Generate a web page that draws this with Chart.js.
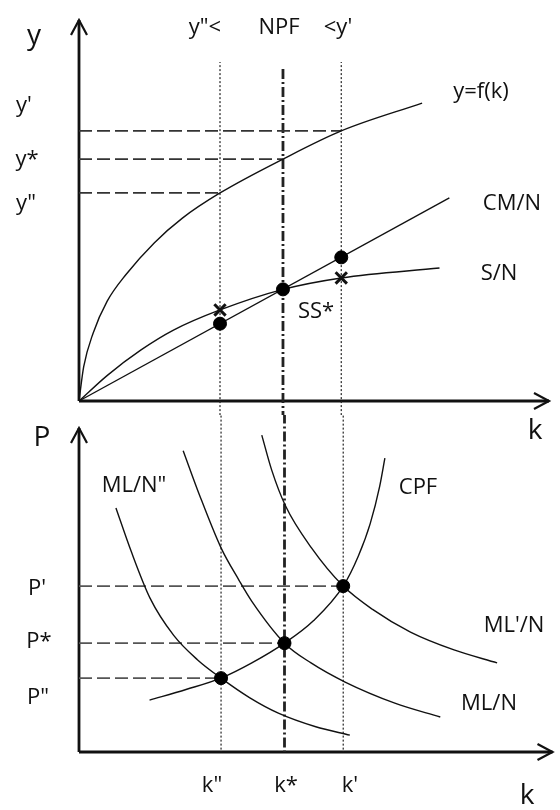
<!DOCTYPE html>
<html>
<head>
<meta charset="utf-8">
<script src="https://cdn.jsdelivr.net/npm/chart.js@4.4.0/dist/chart.umd.min.js"></script>
<style>
  html, body { margin: 0; padding: 0; background: #fff; }
  #wrap { position: relative; width: 560px; height: 810px; }
  canvas { position: absolute; left: 0; }
  #topChart { top: 0; }
  #bottomChart { top: 415px; }
</style>
</head>
<body>
<div id="wrap">
  <canvas id="topChart" width="560" height="415"></canvas>
  <canvas id="bottomChart" width="560" height="395"></canvas>
</div>
<script>
// k'' , k* , k'
const kMarks = [3.0, 4.34, 5.58];

// top panel
const fK = [0, 0.1, 0.3, 0.6, 1.0, 1.6, 2.2, 3.0, 4.34, 5.58, 7.3];
const fY = [0, 0.9, 1.78, 2.62, 3.32, 4.15, 4.8, 5.46, 6.35, 7.09, 7.82];
const sK = [0, 0.61, 1.32, 2.01, 3.0, 4.34, 5.58, 7.67];
const sY = [0, 0.68, 1.34, 1.86, 2.39, 2.93, 3.23, 3.49];
const cmK = [0, 7.88];
const cmY = [0, 5.33];
const yLevels = [5.46, 6.35, 7.09];     // y'', y*, y'
const cmDots = [2.03, 2.93, 3.77];
const sCross = [2.39, null, 3.23];

// bottom panel
const cpfK = [1.49, 2.26, 3.0, 3.65, 4.34, 4.95, 5.58, 5.9, 6.15, 6.35, 6.46];
const cpfP = [1.6, 1.93, 2.28, 2.75, 3.36, 4.05, 5.12, 6.05, 7.05, 8.2, 9.07];
const mlN2K = [0.78, 1.1, 1.5, 2.0, 2.5, 3.0, 3.6, 4.21, 5.0, 5.72];
const mlN2P = [7.53, 6.2, 4.75, 3.6, 2.85, 2.28, 1.68, 1.2, 0.78, 0.52];
const mlK = [2.2, 2.54, 3.0, 3.38, 3.65, 4.34, 4.9, 5.62, 6.67, 7.63];
const mlP = [9.3, 7.95, 6.3, 5.3, 4.65, 3.36, 2.75, 2.16, 1.51, 1.08];
const mlpK = [3.86, 4.07, 4.36, 4.91, 5.58, 6.2, 7.0, 7.92, 8.83];
const mlpP = [9.78, 8.7, 7.6, 6.3, 5.12, 4.4, 3.7, 3.15, 2.75];
const pLevels = [2.28, 3.36, 5.12];     // P'', P*, P'

const FONT = '"Open Sans", Lato, sans-serif';

function pts(xs, ys) {
  return xs.map((x, i) => ({ x: x, y: ys[i] }));
}

function curve(xs, ys) {
  return {
    data: pts(xs, ys), showLine: true, pointRadius: 0,
    borderColor: '#111', borderWidth: 1.4,
    cubicInterpolationMode: 'monotone', clip: false
  };
}

function vline(k, from, to, dash, width) {
  return {
    data: [{ x: k, y: from }, { x: k, y: to }], showLine: true, pointRadius: 0,
    borderColor: '#222', borderWidth: width, borderDash: dash, clip: false
  };
}

function hline(level, k, color) {
  return {
    data: [{ x: 0, y: level }, { x: k, y: level }], showLine: true, pointRadius: 0,
    borderColor: color, borderWidth: 1.7, borderDash: [13, 5], clip: false
  };
}

function dots(xs, ys) {
  return {
    data: pts(xs, ys).filter(p => p.y !== null), showLine: false,
    pointStyle: 'circle', pointRadius: 6.5, backgroundColor: '#000', borderColor: '#000', clip: false
  };
}

function crosses(xs, ys) {
  return {
    data: pts(xs, ys).filter(p => p.y !== null), showLine: false,
    pointStyle: 'crossRot', pointRadius: 8, borderWidth: 3, borderColor: '#111', clip: false
  };
}

// axes with open arrowheads, plus text labels
const diagram = {
  id: 'diagram',
  beforeDatasetsDraw(chart) {
    const { ctx, chartArea: a, scales } = chart;
    const x0 = scales.x.getPixelForValue(0);
    const y0 = scales.y.getPixelForValue(0);
    ctx.save();
    ctx.strokeStyle = '#111';
    ctx.lineWidth = 2.8;
    ctx.beginPath();
    ctx.moveTo(x0, y0); ctx.lineTo(x0, a.top);
    ctx.moveTo(x0, y0); ctx.lineTo(a.right, y0);
    ctx.stroke();
    ctx.lineWidth = 2.2;
    ctx.beginPath();
    ctx.moveTo(x0 - 8, a.top + 15); ctx.lineTo(x0, a.top); ctx.lineTo(x0 + 8, a.top + 15);
    ctx.moveTo(a.right - 15, y0 - 8); ctx.lineTo(a.right, y0); ctx.lineTo(a.right - 15, y0 + 8);
    ctx.stroke();
    ctx.restore();
  },
  afterDraw(chart, args, opts) {
    const ctx = chart.ctx;
    ctx.save();
    ctx.fillStyle = '#111';
    ctx.textAlign = 'center';
    ctx.textBaseline = 'middle';
    opts.labels.forEach(l => {
      ctx.font = (l.size || 22) + 'px ' + FONT;
      ctx.fillText(l.t, l.x, l.y - opts.offset);
    });
    ctx.restore();
  }
};

function options(labels, offset, pad) {
  return {
    responsive: false,
    animation: false,
    layout: { padding: pad },
    scales: {
      x: { type: 'linear', min: 0, max: 10, display: false },
      y: { type: 'linear', min: 0, max: 10, display: false }
    },
    plugins: {
      legend: { display: false },
      tooltip: { enabled: false },
      diagram: { labels: labels, offset: offset }
    }
  };
}

const topLabels = [
  { t: 'y', x: 34, y: 36, size: 28 },
  { t: "y'", x: 24, y: 106 },
  { t: 'y*', x: 27, y: 160 },
  { t: 'y"', x: 26, y: 204 },
  { t: 'y"<', x: 205, y: 28 },
  { t: 'NPF', x: 279, y: 28 },
  { t: "<y'", x: 338, y: 28 },
  { t: 'y=f(k)', x: 481, y: 92 },
  { t: 'CM/N', x: 512, y: 204 },
  { t: 'S/N', x: 499, y: 274 },
  { t: 'SS*', x: 316, y: 312 }
];

const bottomLabels = [
  { t: 'k', x: 535, y: 431, size: 28 },
  { t: 'P', x: 42, y: 438, size: 28 },
  { t: 'ML/N"', x: 134, y: 486 },
  { t: 'CPF', x: 418, y: 488 },
  { t: "P'", x: 37, y: 589 },
  { t: 'P*', x: 39, y: 642 },
  { t: 'P"', x: 38, y: 698 },
  { t: "ML'/N", x: 514, y: 626 },
  { t: 'ML/N', x: 489, y: 704 },
  { t: 'k"', x: 212, y: 786 },
  { t: 'k*', x: 286, y: 786 },
  { t: "k'", x: 350, y: 786 },
  { t: 'k', x: 527, y: 796, size: 28 }
];

new Chart(document.getElementById('topChart'), {
  type: 'scatter',
  data: {
    datasets: [
      dots(kMarks, cmDots),
      crosses(kMarks, sCross),
      curve(fK, fY),
      curve(sK, sY),
      curve(cmK, cmY),
      hline(yLevels[0], kMarks[0], '#333'),
      hline(yLevels[1], kMarks[1], '#333'),
      hline(yLevels[2], kMarks[2], '#333'),
      vline(kMarks[0], -1, 8.9, [2, 2], 1.2),
      vline(kMarks[2], -1, 8.9, [2, 2], 1.2),
      vline(kMarks[1], -1, 8.75, [10, 3, 2, 3], 2.8)
    ]
  },
  options: options(topLabels, 0, { left: 79, right: 4, top: 20, bottom: 14 }),
  plugins: [diagram]
});

new Chart(document.getElementById('bottomChart'), {
  type: 'scatter',
  data: {
    datasets: [
      dots(kMarks, pLevels),
      curve(cpfK, cpfP),
      curve(mlN2K, mlN2P),
      curve(mlK, mlP),
      curve(mlpK, mlpP),
      hline(pLevels[0], kMarks[0], '#555'),
      hline(pLevels[1], kMarks[1], '#555'),
      hline(pLevels[2], kMarks[2], '#555'),
      vline(kMarks[0], 11, 0, [2, 2], 1.2),
      vline(kMarks[2], 11, 0, [2, 2], 1.2),
      vline(kMarks[1], 11, 0, [10, 3, 2, 3], 2.8)
    ]
  },
  options: options(bottomLabels, 415, { left: 79, right: 4, top: 13, bottom: 58 }),
  plugins: [diagram]
});
</script>
</body>
</html>
